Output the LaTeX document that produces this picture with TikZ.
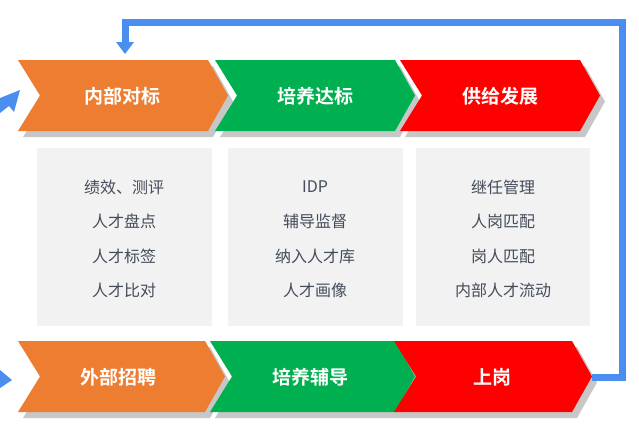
\documentclass[tikz,border=0pt]{standalone}
\usepackage{fontspec}
\setmainfont{Noto Sans CJK SC}
\newfontfamily\cjkb{Noto Sans CJK SC Bold}
\begin{document}
\begin{tikzpicture}[x=1pt,y=-1pt,
  lbl/.style={text=white,font=\cjkb\fontsize{19}{19}\selectfont},
  body/.style={text=black!70!blue!60!gray,font=\fontsize{16}{16}\selectfont,align=center},
  flow/.style={draw=blue!50!cyan!70!white,color={rgb,255:red,74;green,143;blue,240},line width=7pt}]
\definecolor{cor}{RGB}{237,125,49}
\definecolor{cgr}{RGB}{0,176,80}
\definecolor{crd}{RGB}{255,0,0}
\definecolor{cbl}{RGB}{74,143,240}
\definecolor{cbx}{RGB}{242,242,242}
\definecolor{ctx}{RGB}{68,76,90}
\useasboundingbox (0,0) rectangle (639,434);
% chevron macro via pic
\tikzset{chev/.pic={\fill[black!25,opacity=.7] (6,6) -- (-6,-35.5) -- (177,-35.5) -- (198,6) -- (177,41.5) -- (-6,41.5) -- cycle;}}
\foreach \x/\y/\w/\c in {18/60/210/cor,215/60/200/cgr,400/60/200/crd,18/341/207/cor,210/341/205/cgr,394/341/198/crd}{
  \fill[black!22] (\x+5,\y+6) -- (\x+\w-15,\y+6) -- (\x+\w+5,\y+41.5) -- (\x+\w-15,\y+77) -- (\x+5,\y+77) -- (\x+27,\y+41.5) -- cycle;
  \fill[\c] (\x,\y) -- (\x+\w-20,\y) -- (\x+\w,\y+35.5) -- (\x+\w-20,\y+71) -- (\x,\y+71) -- (\x+22,\y+35.5) -- cycle;
}
\node[lbl] (a1) at (122,96) {内部对标};
\node[lbl] (a2) at (315,96) {培养达标};
\node[lbl] (a3) at (500,96) {供给发展};
\node[lbl] (b1) at (118,377) {外部招聘};
\node[lbl] (b2) at (310,377) {培养辅导};
\node[lbl] (b3) at (492,377) {上岗};
\fill[cbx] (37,148) rectangle (212,326);
\fill[cbx] (228,148) rectangle (403,326);
\fill[cbx] (416,148) rectangle (590,326);
\foreach \cx/\a/\b/\c/\d in {124/绩效、测评/人才盘点/人才标签/人才比对, 315/IDP/辅导监督/纳入人才库/人才画像, 503/继任管理/人岗匹配/岗人匹配/内部人才流动}{
  \node[text=ctx,font=\fontsize{16}{16}\selectfont] at (\cx,187) {\a};
  \node[text=ctx,font=\fontsize{16}{16}\selectfont] at (\cx,221) {\b};
  \node[text=ctx,font=\fontsize{16}{16}\selectfont] at (\cx,256) {\c};
  \node[text=ctx,font=\fontsize{16}{16}\selectfont] at (\cx,290) {\d};
}
\coordinate (t3) at (592,377);
\coordinate (p1) at (622,377);
\coordinate (p2) at (622,22);
\coordinate (p3) at (125,22);
\coordinate (p4) at (125,42);
\draw[cbl,line width=7pt] (t3) -- (p1) -- (p2) -- (p3) -- (p4);
\fill[cbl] (116,42) -- (134,42) -- (125,54) -- cycle;
% partial arrows at left
\fill[cbl] (0,98) -- (20,90) -- (14,112) -- (9,106) -- (0,113) -- cycle;
\fill[cbl] (0,370) -- (12,380) -- (0,388) -- cycle;
\end{tikzpicture}
\end{document}
